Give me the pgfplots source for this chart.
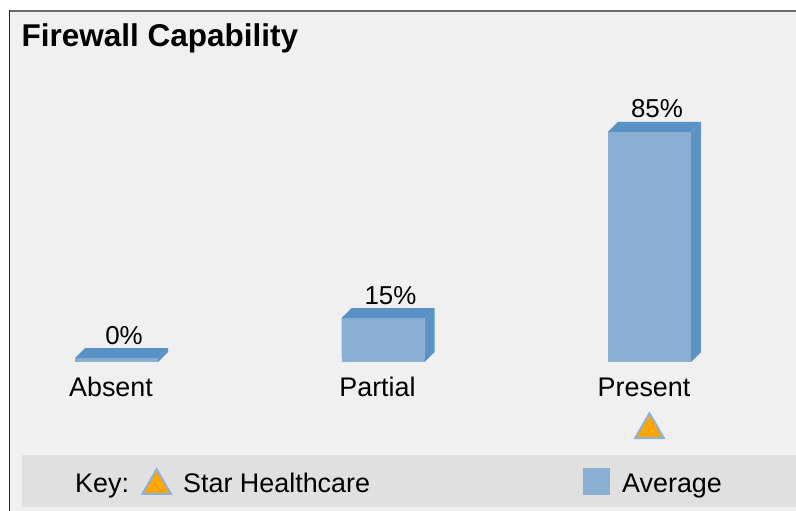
\documentclass[border=0pt]{standalone}
\usepackage{pgfplots}
\pgfplotsset{compat=1.18}
\usepackage{fontspec}
\setmainfont{Liberation Sans}
\definecolor{frontblue}{RGB}{138,175,211}
\definecolor{topblue}{RGB}{88,146,196}
\definecolor{sideblue}{RGB}{92,147,194}
\definecolor{bggray}{RGB}{240,240,240}
\definecolor{keygray}{RGB}{224,224,224}
\definecolor{triorange}{RGB}{255,165,0}
\definecolor{triedge}{RGB}{140,178,216}
\newcommand\lbl{\fontsize{27}{31}\selectfont}
\newcommand\vlbl{\fontsize{26}{30}\selectfont}
\newcommand\ttl{\fontsize{31.6}{36}\selectfont\bfseries}

% 3D faces of a bar: drawn at the bar's front-top centre, \val = bar value
\pgfdeclareplotmark{bar3d}{%
  \pgfmathsetlengthmacro\hv{-\val*2.66bp}%
  \pgfmathsetlengthmacro\hb{-\val*2.66bp-4bp}%
  \pgfmathsetlengthmacro\hc{-\val*2.66bp+6bp}%
  \pgfsetfillcolor{frontblue}%
  \pgfpathrectanglecorners{\pgfpoint{-41.5bp}{\hv}}{\pgfpoint{41.5bp}{\hb}}%
  \pgfusepathqfill
  \pgfsetfillcolor{sideblue}%
  \pgfpathmoveto{\pgfpoint{41.5bp}{0pt}}%
  \pgfpathlineto{\pgfpoint{51.5bp}{10bp}}%
  \pgfpathlineto{\pgfpoint{51.5bp}{\hc}}%
  \pgfpathlineto{\pgfpoint{41.5bp}{\hb}}%
  \pgfpathclose\pgfusepathqfill
  \pgfsetfillcolor{topblue}%
  \pgfpathmoveto{\pgfpoint{-41.5bp}{0pt}}%
  \pgfpathlineto{\pgfpoint{41.5bp}{0pt}}%
  \pgfpathlineto{\pgfpoint{51.5bp}{10bp}}%
  \pgfpathlineto{\pgfpoint{-31.5bp}{10bp}}%
  \pgfpathclose\pgfusepathqfill
}
\pgfplotsset{
  trilegend/.style={legend image code/.code={\path[draw=none,fill=none] (0bp,0bp) rectangle (42bp,1bp);
    \draw[##1] plot coordinates {(15.5bp,6.5bp)};}},
  sqlegend/.style={legend image code/.code={\fill[frontblue] (0bp,-3bp) rectangle (27bp,24bp);
    \path[draw=none,fill=none] (0bp,0bp) -- (39bp,0bp);}},
}

\begin{document}
\begin{tikzpicture}
\useasboundingbox (0,0) rectangle (796bp,511bp);
\fill[white] (0,0) rectangle (796bp,511bp);
\fill[bggray] (9bp,0) rectangle (796bp,500bp);
\fill[keygray] (22bp,4bp) rectangle (796bp,56bp);
\draw[gray!85!black, line width=1.5bp] (9bp,500bp) -- (796bp,500bp);
\draw[black!85, line width=1.5bp] (9.5bp,0) -- (9.5bp,500.75bp);
\node[anchor=base west, font=\ttl, inner sep=0pt] at (21.5bp,464bp) {Firewall Capability};
\begin{axis}[
  x=266.5bp, y=2.66bp,
  xmin=-0.4, xmax=2.4, ymin=-1.5, ymax=95,
  at={(9.9bp,149bp)}, anchor=south west,
  clip=false,
  axis line style={draw=none},
  tick style={draw=none},
  ytick=\empty,
  xtick={0,1,2},
  xticklabels={Absent,Partial,Present},
  xticklabel style={font=\lbl, anchor=base, yshift=-35bp, xshift=-5.5bp},
  /pgf/number format/assume math mode=true,
  legend columns=-1,
  legend style={at={(axis description cs:0.08724,-0.4665)}, anchor=west,
    draw=none, fill=none, inner sep=0pt, font=\lbl, column sep=0pt,
    nodes={inner sep=0pt}, cells={anchor=base west}},
]
\addlegendimage{empty legend}
\addlegendentry{\makebox[66bp][l]{Key:}}

\addplot[only marks, mark=triangle*, mark size=16.5bp,
  mark options={fill=triorange, draw=triedge, line width=2bp}, trilegend]
  coordinates {(2,-27)};
\addlegendentry{\makebox[400bp][l]{Star Healthcare}}

\addplot[ybar, bar width=83bp, bar shift=0pt, fill=frontblue, draw=none,
  mark=bar3d, visualization depends on={rawy \as \val},
  nodes near coords={\pgfmathprintnumber{\pgfplotspointmeta}\%},
  every node near coord/.append style={font=\vlbl, anchor=base, xshift=7.5bp, yshift=14bp, text=black},
  sqlegend]
  coordinates {(0,0) (1,15) (2,85)};
\addlegendentry{Average}
\end{axis}
\end{tikzpicture}
\end{document}
